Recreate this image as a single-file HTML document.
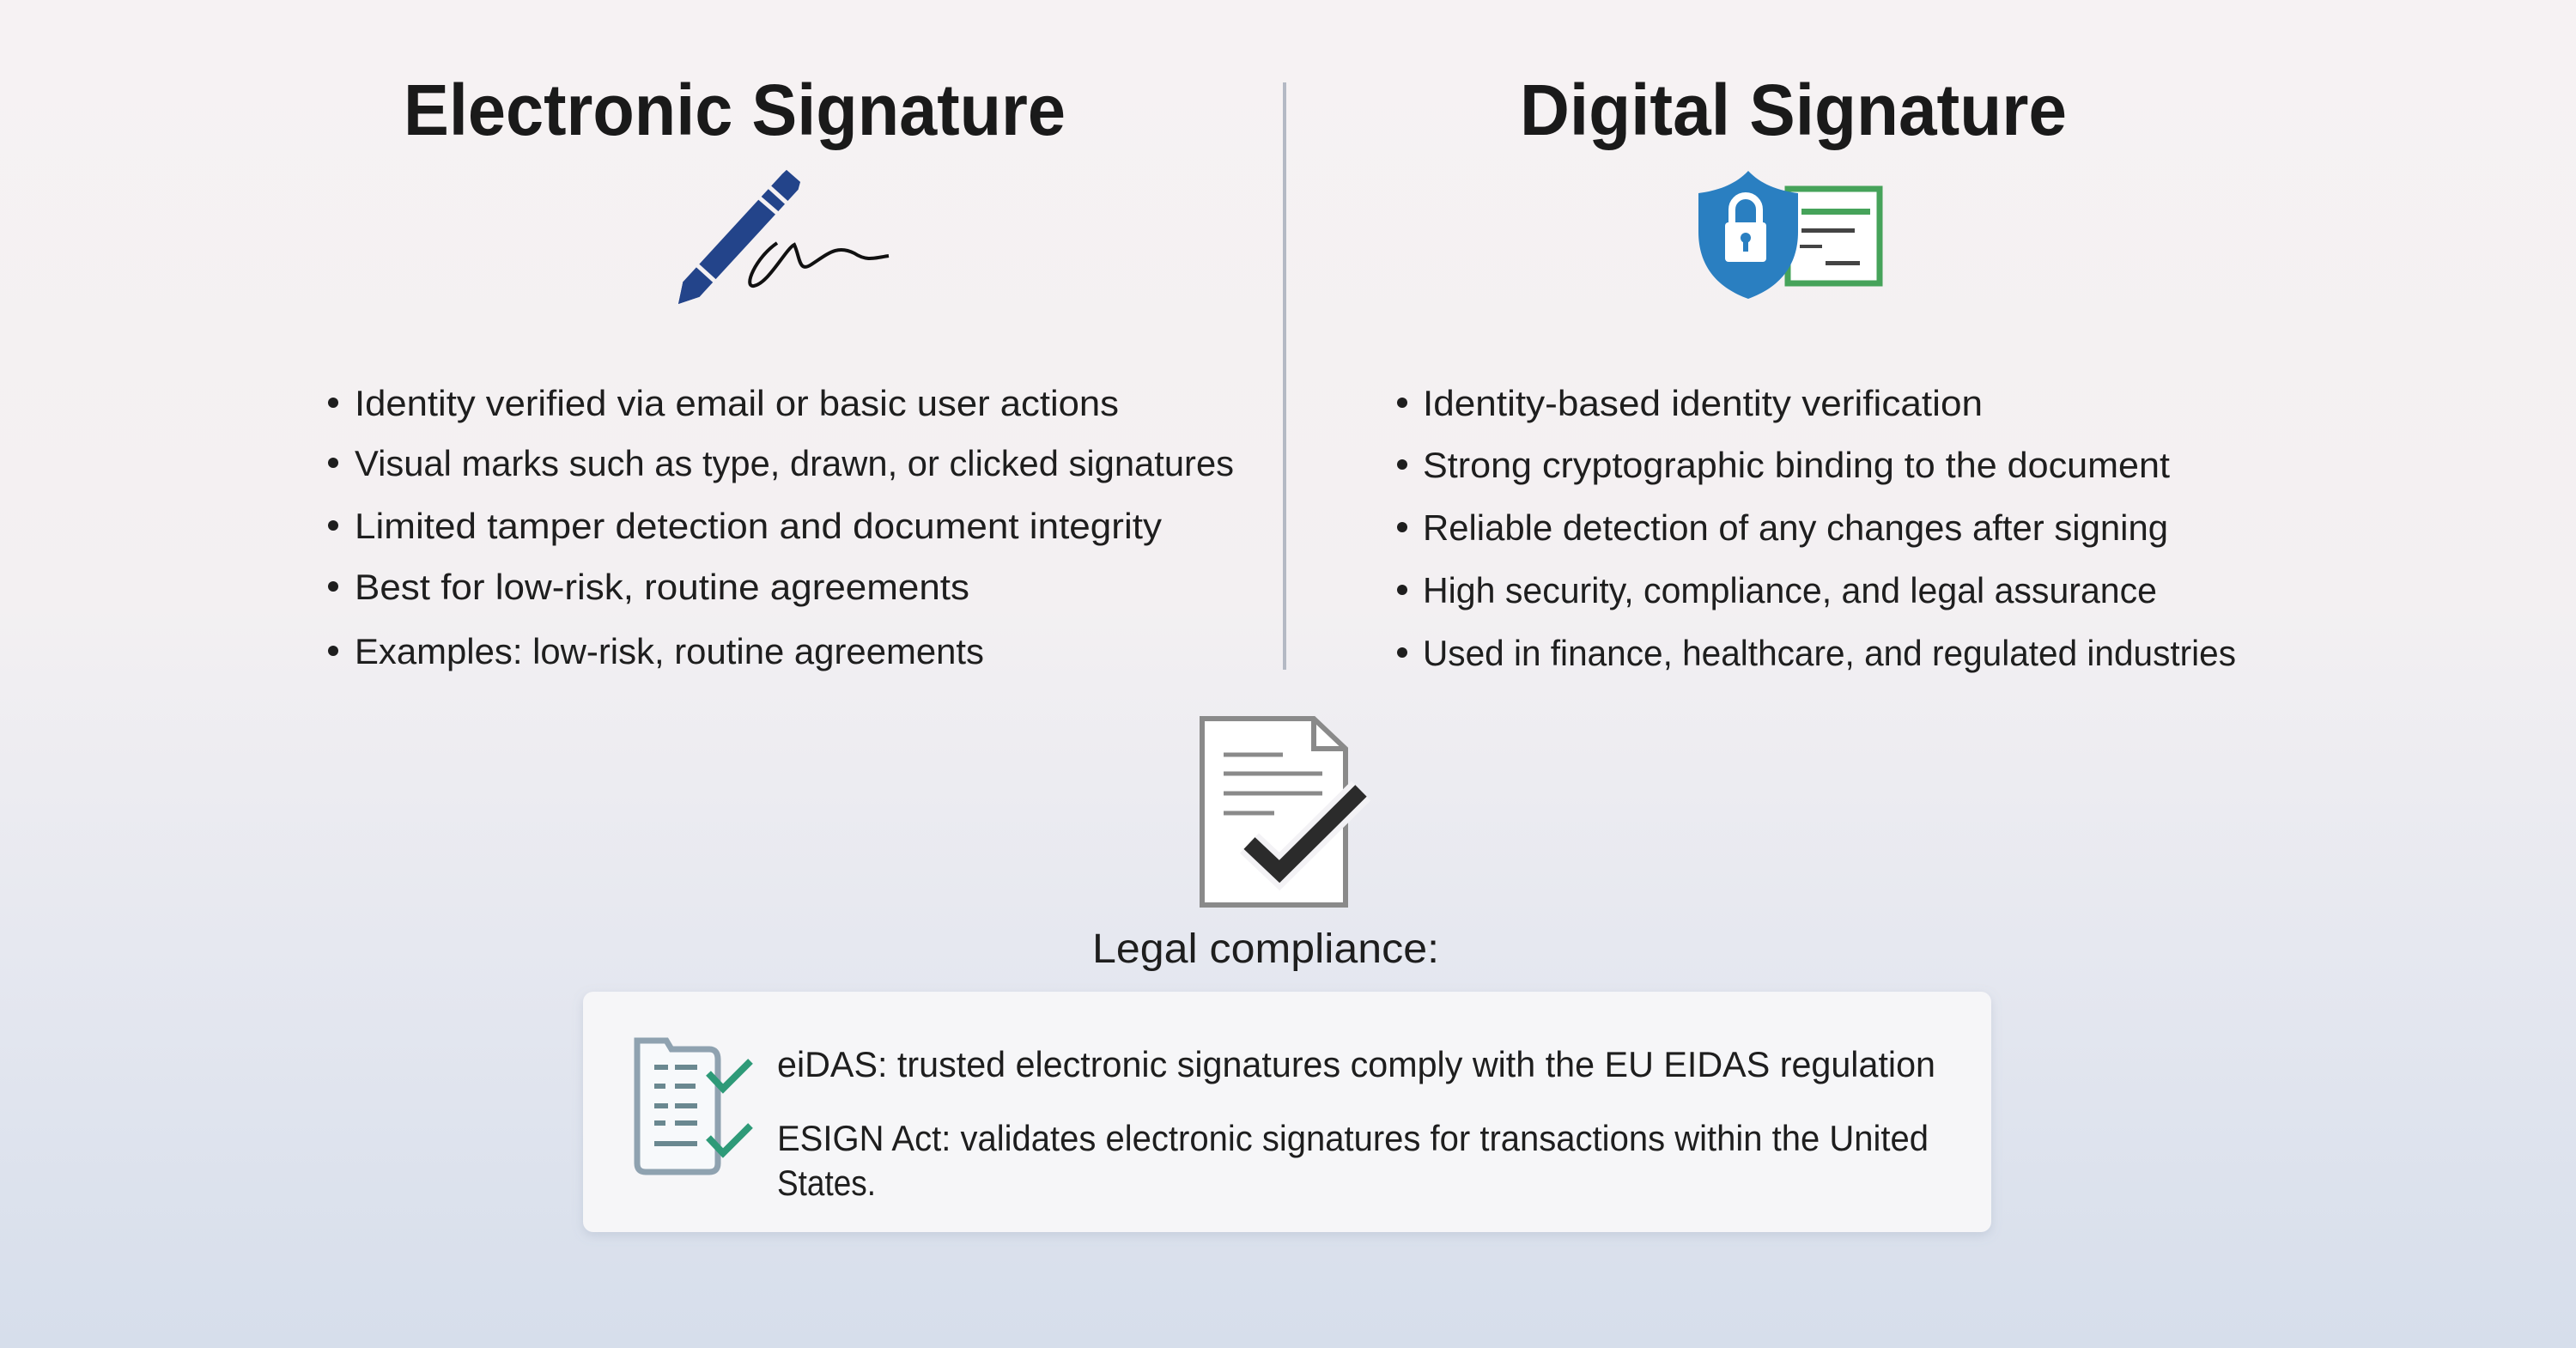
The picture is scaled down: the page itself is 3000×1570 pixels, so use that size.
<!DOCTYPE html>
<html><head><meta charset="utf-8"><style>
html,body{margin:0;padding:0;width:3000px;height:1570px;overflow:hidden}
body{background:linear-gradient(180deg,#f6f2f3 0%,#f3f0f2 45%,#e6e8f0 70%,#d6deeb 100%)}
svg{position:absolute;left:0;top:0}
</style></head><body>
<svg width="3000" height="1570" viewBox="0 0 3000 1570" xmlns="http://www.w3.org/2000/svg" font-family="Liberation Sans, DejaVu Sans, sans-serif">
<defs><filter id="sh" x="-5%" y="-10%" width="110%" height="130%"><feDropShadow dx="0" dy="4" stdDeviation="6" flood-color="#8090a8" flood-opacity="0.25"/></filter></defs>
<!-- titles -->
<text x="470" y="157" font-size="84" font-weight="bold" fill="#1a1a1a" textLength="771" lengthAdjust="spacingAndGlyphs">Electronic Signature</text>
<text x="1770" y="157" font-size="84" font-weight="bold" fill="#1a1a1a" textLength="637" lengthAdjust="spacingAndGlyphs">Digital Signature</text>
<line x1="1496" y1="96" x2="1496" y2="780" stroke="#b4b9c4" stroke-width="4"/>
<!-- pen -->
<polygon points="929.6,220.8 910.4,203.2 916,198 932,212 814.6,345.8 790,354 795.4,328.2" fill="#23448a"/>
<polygon points="932,212 916,198 910.4,203.2 795.4,328.2 790,354 814.6,345.8 929.6,220.8" fill="#23448a"/>
<g stroke="#f4f1f3" stroke-width="5">
<line x1="895" y1="217" x2="917" y2="237"/>
<line x1="884" y1="230" x2="906" y2="249"/>
<line x1="811" y1="308" x2="833" y2="328"/>
</g>
<path d="M905 283 C880 300,865 335,878 333 C895 330,915 290,925 285 C932 300,930 318,945 308 C965 295,975 285,995 295 C1010 305,1020 300,1035 298" fill="none" stroke="#111" stroke-width="4"/>
<!-- shield + doc -->
<rect x="2082" y="220" width="107" height="110" fill="#fff" stroke="#46a35a" stroke-width="7"/>
<rect x="2098" y="243" width="80" height="7" fill="#46a35a"/>
<rect x="2098" y="266" width="62" height="5" fill="#444"/>
<rect x="2096" y="285" width="26" height="4" fill="#444"/>
<rect x="2126" y="304" width="40" height="5" fill="#444"/>
<path d="M2036 199 C2050 214,2070 222,2094 225 L2094 270 C2094 310,2072 335,2036 348 C2000 335,1978 310,1978 270 L1978 225 C2002 222,2022 214,2036 199 Z" fill="#2a7fc1"/>
<rect x="2009" y="259" width="48" height="46" rx="4" fill="#fff"/>
<path d="M2017 260 L2017 244 A16 16 0 0 1 2049 244 L2049 260" fill="none" stroke="#fff" stroke-width="8"/>
<circle cx="2033" cy="277" r="6" fill="#2a7fc1"/><rect x="2030" y="279" width="6" height="14" fill="#2a7fc1"/>
<!-- bullets -->
<g font-size="42" fill="#1e1e1e">
<circle cx="388" cy="469" r="6"/><text x="413" y="484" textLength="890" lengthAdjust="spacingAndGlyphs">Identity verified via email or basic user actions</text>
<circle cx="388" cy="539" r="6"/><text x="413" y="554" textLength="1024" lengthAdjust="spacingAndGlyphs">Visual marks such as type, drawn, or clicked signatures</text>
<circle cx="388" cy="612" r="6"/><text x="413" y="627" textLength="940" lengthAdjust="spacingAndGlyphs">Limited tamper detection and document integrity</text>
<circle cx="388" cy="683" r="6"/><text x="413" y="698" textLength="716" lengthAdjust="spacingAndGlyphs">Best for low-risk, routine agreements</text>
<circle cx="388" cy="758" r="6"/><text x="413" y="773" textLength="733" lengthAdjust="spacingAndGlyphs">Examples: low-risk, routine agreements</text>
<circle cx="1633" cy="469" r="6"/><text x="1657" y="484" textLength="652" lengthAdjust="spacingAndGlyphs">Identity-based identity verification</text>
<circle cx="1633" cy="541" r="6"/><text x="1657" y="556" textLength="870" lengthAdjust="spacingAndGlyphs">Strong cryptographic binding to the document</text>
<circle cx="1633" cy="614" r="6"/><text x="1657" y="629" textLength="868" lengthAdjust="spacingAndGlyphs">Reliable detection of any changes after signing</text>
<circle cx="1633" cy="687" r="6"/><text x="1657" y="702" textLength="855" lengthAdjust="spacingAndGlyphs">High security, compliance, and legal assurance</text>
<circle cx="1633" cy="760" r="6"/><text x="1657" y="775" textLength="947" lengthAdjust="spacingAndGlyphs">Used in finance, healthcare, and regulated industries</text>
</g>
<!-- doc check -->
<path d="M1400 837 L1530 837 L1567 872 L1567 1054 L1400 1054 Z" fill="#fff" stroke="#8a8a8a" stroke-width="6"/>
<path d="M1530 837 L1530 872 L1567 872" fill="none" stroke="#8a8a8a" stroke-width="6"/>
<g stroke="#8a8a8a" stroke-width="5"><line x1="1425" y1="879" x2="1494" y2="879"/><line x1="1425" y1="901" x2="1540" y2="901"/><line x1="1425" y1="924" x2="1540" y2="924"/><line x1="1425" y1="947" x2="1484" y2="947"/></g>
<path d="M1455 982 L1490 1015 L1585 921" fill="none" stroke="#f3f2f5" stroke-width="32"/>
<path d="M1455 982 L1490 1015 L1585 921" fill="none" stroke="#2b2b2b" stroke-width="19"/>
<text x="1272" y="1121" font-size="48" fill="#1e1e1e" textLength="404" lengthAdjust="spacingAndGlyphs">Legal compliance:</text>
<!-- box -->
<rect x="679" y="1155" width="1640" height="280" rx="12" fill="#f6f6f8" filter="url(#sh)"/>
<path d="M742 1212 L776 1212 L782 1222 L826 1222 Q836 1222 836 1234 L836 1355 Q836 1365 826 1365 L752 1365 Q742 1365 742 1355 Z" fill="#f7f9fb" stroke="#8fa2b0" stroke-width="7"/>
<g stroke="#6a8890" stroke-width="6"><line x1="762" y1="1243" x2="778" y2="1243"/><line x1="786" y1="1243" x2="812" y2="1243"/><line x1="762" y1="1265" x2="775" y2="1265"/><line x1="786" y1="1265" x2="810" y2="1265"/><line x1="762" y1="1288" x2="778" y2="1288"/><line x1="786" y1="1288" x2="812" y2="1288"/><line x1="762" y1="1308" x2="775" y2="1308"/><line x1="786" y1="1308" x2="812" y2="1308"/><line x1="762" y1="1332" x2="812" y2="1332"/></g>
<path d="M825 1250 L842 1268 L874 1236" fill="none" stroke="#2e9a78" stroke-width="8"/>
<path d="M825 1325 L842 1343 L874 1311" fill="none" stroke="#2e9a78" stroke-width="8"/>
<g font-size="42" fill="#1e1e1e">
<text x="905" y="1254" textLength="1349" lengthAdjust="spacingAndGlyphs">eiDAS: trusted electronic signatures comply with the EU EIDAS regulation</text>
<text x="905" y="1340" textLength="1341" lengthAdjust="spacingAndGlyphs">ESIGN Act:  validates electronic signatures for transactions within the United</text>
<text x="905" y="1392" textLength="115" lengthAdjust="spacingAndGlyphs">States.</text>
</g>
</svg>
</body></html>
